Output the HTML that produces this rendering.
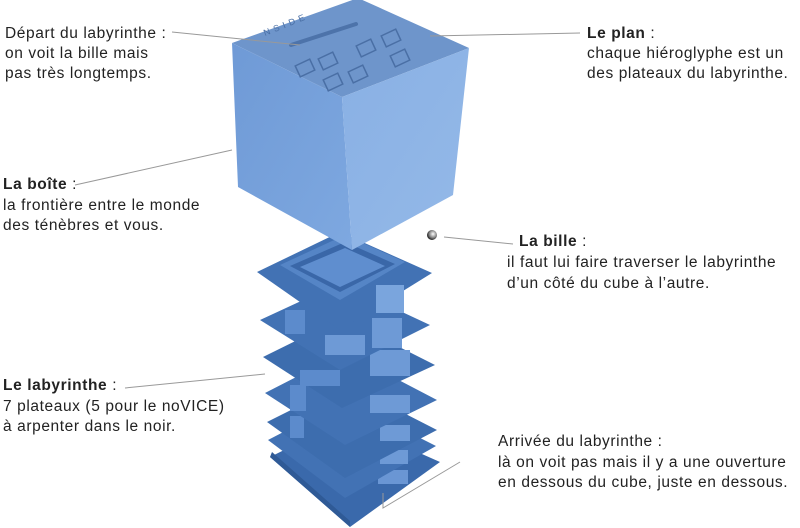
<!DOCTYPE html>
<html><head><meta charset="utf-8"><style>
html,body{margin:0;padding:0;background:#fff;}
svg{display:block;}
text{font-family:"Liberation Sans",sans-serif;font-size:15.5px;letter-spacing:0.6px;fill:#222;}
.b{font-weight:bold;}
</style></head><body>
<svg width="800" height="528" viewBox="0 0 800 528" xmlns="http://www.w3.org/2000/svg">
<defs>
<linearGradient id="lf" x1="0" y1="0" x2="1" y2="1"><stop offset="0" stop-color="#6f9ad6"/><stop offset="1" stop-color="#7ea8e0"/></linearGradient>
<linearGradient id="rf" x1="0" y1="0" x2="1" y2="1"><stop offset="0" stop-color="#89b0e4"/><stop offset="1" stop-color="#94b9e8"/></linearGradient>
<radialGradient id="ball" cx="0.6" cy="0.4" r="0.6"><stop offset="0" stop-color="#fff"/><stop offset="0.6" stop-color="#888"/><stop offset="1" stop-color="#222"/></radialGradient>
</defs>

<g>
  <polygon points="270,457 345,420 440,462 350,527" fill="#3a69ab"/>
  <polygon points="270,457 350,527 350,521 272,452" fill="#2f5a96"/>
  <rect x="378" y="470" width="30" height="14" fill="#6a96d4"/>
  <polygon points="268,440 345,400 436,446 345,498" fill="#4272b4"/>
  <rect x="380" y="450" width="28" height="14" fill="#6e9ad6"/>
  <polygon points="267,422 345,383 437,430 345,478" fill="#3d6dae"/>
  <rect x="290" y="416" width="14" height="22" fill="#5c8bcc"/>
  <rect x="380" y="425" width="30" height="16" fill="#6e9ad6"/>
  <polygon points="265,393 345,352 437,400 345,445" fill="#4272b4"/>
  <rect x="290" y="385" width="16" height="26" fill="#5c8bcc"/>
  <rect x="370" y="395" width="40" height="18" fill="#6e9ad6"/>
  <polygon points="263,357 342,318 435,365 342,408" fill="#3d6dae"/>
  <rect x="300" y="370" width="40" height="16" fill="#5c8bcc"/>
  <rect x="370" y="350" width="40" height="26" fill="#6e9ad6"/>
  <polygon points="260,320 340,283 430,325 340,370" fill="#4272b4"/>
  <rect x="285" y="310" width="20" height="24" fill="#5c8bcc"/>
  <rect x="325" y="335" width="40" height="20" fill="#6e9ad6"/>
  <rect x="372" y="318" width="30" height="30" fill="#6e9ad6"/>
  <polygon points="257,272 340,232 432,273 340,330" fill="#4272b4"/>
  <polygon points="280,265 345,235 405,262 340,300" fill="#5585c6"/>
  <polygon points="290,266 345,242 395,264 340,292" fill="#3a67a8"/>
  <polygon points="300,267 345,248 385,266 340,287" fill="#5f8ecf"/>
  <rect x="376" y="285" width="28" height="28" fill="#7aa5dd"/>
</g>

<polygon points="232,43 358,-2 469,48 342,97" fill="#6e95cb"/>
<polygon points="232,43 342,97 352,250 238,187" fill="url(#lf)"/>
<polygon points="342,97 469,48 453,195 352,250" fill="url(#rf)"/>
<g fill="none" stroke="#4a6fa5" stroke-width="1.5">
  <line x1="291" y1="45" x2="356" y2="24" stroke="#4d73aa" stroke-width="4" stroke-linecap="round"/>
  <rect x="297" y="62" width="16" height="12" transform="rotate(-25 305 68)"/>
  <rect x="320" y="55" width="16" height="12" transform="rotate(-25 328 61)"/>
  <rect x="358" y="42" width="16" height="12" transform="rotate(-25 366 48)"/>
  <rect x="383" y="32" width="16" height="12" transform="rotate(-25 391 38)"/>
  <rect x="325" y="76" width="16" height="12" transform="rotate(-25 333 82)"/>
  <rect x="350" y="68" width="16" height="12" transform="rotate(-25 358 74)"/>
  <rect x="392" y="52" width="16" height="12" transform="rotate(-25 400 58)"/>
</g>
<text x="265" y="36" style="font-size:9px;fill:#4a6fa5;letter-spacing:4px" transform="rotate(-22 265 36)">NSIDE</text>

<circle cx="432" cy="235" r="5" fill="url(#ball)"/>

<g stroke="#999" stroke-width="1" fill="none">
  <line x1="172" y1="32" x2="300" y2="45"/>
  <line x1="430" y1="36" x2="580" y2="33"/>
  <line x1="75" y1="185" x2="232" y2="150"/>
  <line x1="444" y1="237" x2="513" y2="244"/>
  <line x1="125" y1="388" x2="265" y2="374"/>
  <polyline points="383,493 383,508 460,462"/>
</g>

<text x="5" y="38">Départ du labyrinthe :</text>
<text x="5" y="58">on voit la bille mais</text>
<text x="5" y="78">pas très longtemps.</text>

<text x="587" y="38"><tspan class="b">Le plan</tspan> :</text>
<text x="587" y="58">chaque hiéroglyphe est un</text>
<text x="587" y="78">des plateaux du labyrinthe.</text>

<text x="3" y="189"><tspan class="b">La boîte</tspan> :</text>
<text x="3" y="210">la frontière entre le monde</text>
<text x="3" y="230">des ténèbres et vous.</text>

<text x="519" y="246"><tspan class="b">La bille</tspan> :</text>
<text x="507" y="267">il faut lui faire traverser le  labyrinthe</text>
<text x="507" y="288">d’un côté du cube à l’autre.</text>

<text x="3" y="390"><tspan class="b">Le labyrinthe</tspan> :</text>
<text x="3" y="411">7 plateaux (5 pour le noVICE)</text>
<text x="3" y="431"> à arpenter dans le noir.</text>

<text x="498" y="446">Arrivée du labyrinthe :</text>
<text x="498" y="467">là on voit pas mais il y a une ouverture</text>
<text x="498" y="487">en dessous du cube, juste en dessous.</text>
</svg>
</body></html>
